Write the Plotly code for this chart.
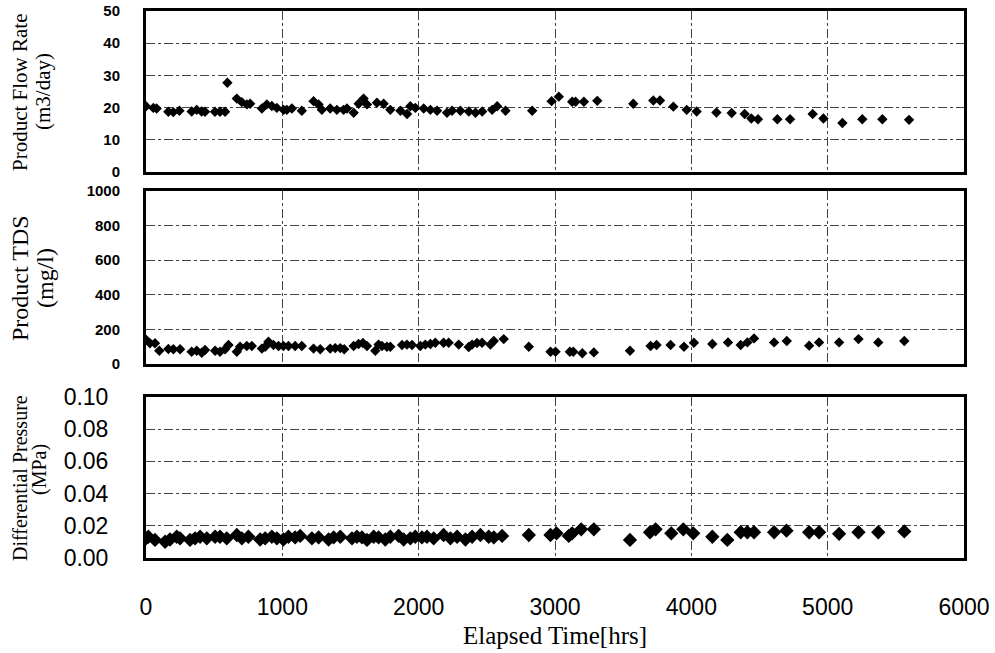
import plotly.graph_objects as go

# Product flow rate (m3/day) vs elapsed hours
hours_flow = [0, 54, 78, 164, 200, 245, 335, 372, 408, 433, 506, 543, 580, 597, 666, 703,
              740, 764, 850, 886, 923, 960, 1009, 1033, 1070, 1143, 1229, 1266, 1290, 1351,
              1400, 1449, 1474, 1523, 1560, 1596, 1621, 1694, 1743, 1792, 1866, 1915, 1939,
              1976, 2037, 2086, 2135, 2208, 2245, 2306, 2368, 2417, 2466, 2539, 2576, 2637,
              2833, 2975, 3028, 3126, 3151, 3212, 3310, 3574, 3721, 3770, 3868, 3966, 4039,
              4184, 4296, 4391, 4440, 4489, 4631, 4724, 4890, 4969, 5108, 5254, 5401, 5597]
flow_rate = [20.4, 19.9, 19.7, 18.7, 18.6, 19.0, 18.8, 19.3, 18.8, 18.7, 18.7, 18.7, 18.7, 27.7,
             22.8, 21.7, 21.0, 21.2, 19.7, 21.0, 20.5, 19.9, 19.3, 19.3, 19.7, 19.0, 22.0, 21.0,
             19.3, 19.7, 19.3, 19.3, 19.7, 18.4, 21.2, 22.8, 21.0, 21.5, 21.2, 19.3, 19.0, 18.0,
             20.4, 19.9, 19.7, 19.3, 19.0, 18.4, 19.0, 19.0, 18.8, 18.4, 18.8, 19.3, 20.4, 19.0,
             19.0, 22.0, 23.4, 21.8, 21.8, 21.8, 22.1, 21.2, 22.2, 22.2, 20.3, 19.3, 18.8, 18.5,
             18.3, 18.0, 16.6, 16.4, 16.4, 16.4, 18.0, 16.6, 15.2, 16.4, 16.4, 16.2]

# Product TDS (mg/l) vs elapsed hours
hours_tds = [0, 29, 66, 98, 164, 201, 250, 335, 372, 409, 433, 507, 543, 580, 605, 666, 690,
             739, 776, 850, 874, 898, 935, 972, 1008, 1045, 1094, 1143, 1229, 1278, 1351, 1388,
             1425, 1454, 1523, 1559, 1591, 1621, 1682, 1706, 1731, 1767, 1792, 1878, 1914, 1951,
             2012, 2049, 2086, 2122, 2183, 2220, 2294, 2367, 2392, 2428, 2465, 2526, 2551, 2624,
             2808, 2967, 3004, 3109, 3134, 3200, 3285, 3550, 3701, 3745, 3848, 3946, 4019, 4154,
             4269, 4362, 4411, 4460, 4607, 4700, 4864, 4937, 5084, 5226, 5371, 5562]
tds = [140, 120, 120, 77, 87, 85, 85, 71, 77, 65, 81, 77, 71, 85, 110, 71, 100, 104, 104, 89,
       100, 129, 110, 104, 104, 104, 104, 104, 89, 85, 89, 92, 92, 85, 104, 116, 121, 104, 77,
       112, 104, 100, 100, 110, 112, 110, 104, 112, 116, 123, 123, 123, 112, 98, 112, 121, 123,
       112, 133, 144, 100, 71, 71, 71, 71, 62, 67, 77, 104, 110, 110, 100, 123, 116, 125, 110,
       125, 148, 125, 133, 106, 125, 125, 144, 125, 133]

# Differential pressure (MPa) vs elapsed hours
hours_dp = [0, 17, 66, 140, 176, 225, 250, 323, 360, 397, 446, 507, 543, 592, 666, 703, 751,
            837, 874, 923, 960, 1008, 1045, 1094, 1131, 1217, 1266, 1339, 1376, 1425, 1511,
            1547, 1584, 1621, 1670, 1706, 1755, 1792, 1853, 1890, 1939, 1975, 2024, 2061, 2110,
            2183, 2233, 2282, 2343, 2392, 2453, 2514, 2551, 2612, 2808, 2967, 3011, 3101, 3126,
            3192, 3285, 3550, 3697, 3738, 3853, 3941, 4014, 4154, 4264, 4362, 4411, 4460, 4607,
            4698, 4864, 4937, 5084, 5226, 5371, 5562]
dp = [0.0122, 0.0132, 0.0112, 0.0101, 0.0115, 0.0132, 0.0122, 0.0112, 0.0122, 0.0132, 0.0122,
      0.0132, 0.0132, 0.0122, 0.0143, 0.0122, 0.0132, 0.0115, 0.0122, 0.0132, 0.0122, 0.0115,
      0.0132, 0.0128, 0.0137, 0.0122, 0.0128, 0.0115, 0.0128, 0.0132, 0.0122, 0.0132, 0.0128,
      0.0112, 0.0132, 0.0128, 0.0115, 0.0132, 0.0137, 0.0115, 0.0122, 0.0132, 0.0128, 0.0132,
      0.0122, 0.0143, 0.0122, 0.0132, 0.0115, 0.0132, 0.0143, 0.0132, 0.0128, 0.0137, 0.0143,
      0.0143, 0.0153, 0.0137, 0.0153, 0.0178, 0.0178, 0.0112, 0.0160, 0.0178, 0.0153, 0.0178,
      0.0153, 0.0132, 0.0112, 0.0160, 0.0160, 0.0160, 0.0160, 0.0170, 0.0160, 0.0160, 0.0150,
      0.0160, 0.0160, 0.0165]

x_ticks = [0, 1000, 2000, 3000, 4000, 5000, 6000]
flow_ticks = [0, 10, 20, 30, 40, 50]
tds_ticks = [0, 200, 400, 600, 800, 1000]
dp_ticks = [0, 0.02, 0.04, 0.06, 0.08, 0.10]
dp_tick_text = ["0.00", "0.02", "0.04", "0.06", "0.08", "0.10"]

W, H = 995, 653


def ydom(top, bottom):
    return [1 - bottom / H, 1 - top / H]


XDOM = [146 / W, 964 / W]
SERIF = "Liberation Serif, Times New Roman, serif"
SANS = "Liberation Sans, Arial, sans-serif"

frame = dict(showline=True, linecolor="black", linewidth=3, mirror=True,
             zeroline=False, showgrid=True, gridcolor="#444", gridwidth=1,
             griddash="dashdot", ticks="", automargin=False)

fig = go.Figure()
marker_small = dict(symbol="diamond", size=8, color="black")
marker_big = dict(symbol="diamond", size=11, color="black")
fig.add_trace(go.Scatter(x=hours_flow, y=flow_rate, mode="markers", marker=marker_small,
                         xaxis="x", yaxis="y"))
fig.add_trace(go.Scatter(x=hours_tds, y=tds, mode="markers", marker=marker_small,
                         xaxis="x2", yaxis="y2"))
fig.add_trace(go.Scatter(x=hours_dp, y=dp, mode="markers", marker=marker_big,
                         xaxis="x3", yaxis="y3"))

xbase = dict(range=[0, 6000], tickvals=x_ticks, domain=XDOM, **frame)
bold_tick = dict(family=SANS, size=15, color="black", weight="bold")

fig.update_layout(
    width=W, height=H,
    margin=dict(l=0, r=0, t=0, b=0),
    paper_bgcolor="white", plot_bgcolor="white",
    showlegend=False,
    xaxis=dict(anchor="y", showticklabels=False, **xbase),
    xaxis2=dict(anchor="y2", showticklabels=False, **xbase),
    xaxis3=dict(anchor="y3", showticklabels=True,
                tickfont=dict(family="Liberation Sans Narrow, Arial Narrow, " + SANS,
                              size=23, color="black"),
                ticklabelstandoff=26, **xbase),
    yaxis=dict(anchor="x", domain=ydom(11, 172), range=[0, 50], tickvals=flow_ticks,
               tickfont=bold_tick, ticklabelstandoff=20, **frame),
    yaxis2=dict(anchor="x2", domain=ydom(191, 364), range=[0, 1000], tickvals=tds_ticks,
                tickfont=bold_tick, ticklabelstandoff=20, **frame),
    yaxis3=dict(anchor="x3", domain=ydom(397, 558), range=[0, 0.10], tickvals=dp_ticks,
                ticktext=dp_tick_text,
                tickfont=dict(family=SANS, size=23, color="black"),
                ticklabelstandoff=30, **frame),
)

# Axis titles written as rotated annotations
titles = [
    ("Product Flow Rate", 20, 92, 21),
    ("(m3/day)", 43, 92, 21),
    ("Product TDS", 20, 278, 24),
    ("(mg/l)", 45, 278, 24),
    ("Differential Pressure", 20, 478, 20),
    ("(MPa)", 39, 470, 20),
]
for text, px, py, size in titles:
    fig.add_annotation(text=text, x=px / W, y=1 - py / H, xref="paper", yref="paper",
                       textangle=-90, showarrow=False, xanchor="center", yanchor="middle",
                       font=dict(family=SERIF, size=size, color="black"))

fig.add_annotation(text="Elapsed Time[hrs]", x=555 / W, y=1 - 635 / H, xref="paper",
                   yref="paper", showarrow=False, xanchor="center", yanchor="middle",
                   font=dict(family=SERIF, size=25, color="black"))

fig.write_html("out.html")
